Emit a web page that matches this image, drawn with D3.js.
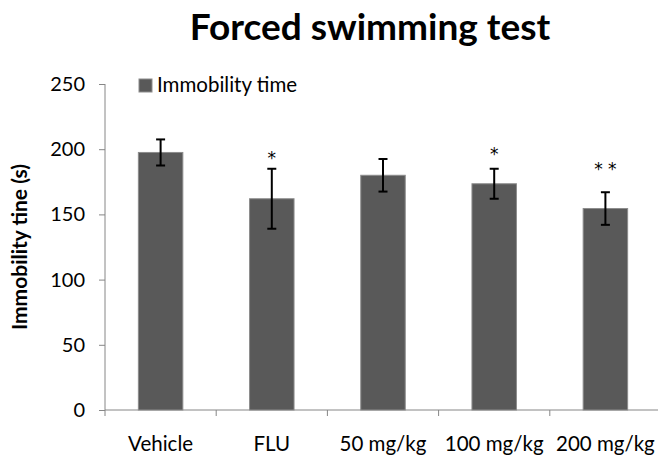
<!DOCTYPE html>
<html>
<head>
<meta charset="utf-8">
<script src="https://cdn.jsdelivr.net/npm/d3@7"></script>
<style>
    body { margin: 0; background: #fff; }
    svg { display: block; font-family: Lato, "Open Sans", sans-serif; }
</style>
</head>
<body>
<div id="chart-area"></div>
<script>
// Data
var groups = ["Vehicle", "FLU", "50 mg/kg", "100 mg/kg", "200 mg/kg"];
var immobility = [197.5, 162, 180, 173.5, 154.5];
var sem = [10, 23, 12.5, 11.5, 12.5];
var signif = ["", "*", "", "*", "* *"];
var signifAt = [0, 197, 0, 200, 188.5];
var yTicks = [0, 50, 100, 150, 200, 250];

var margin = { left:105, right:-3, top:84, bottom:46 };
var width = 658 - margin.left - margin.right,
    height = 456 - margin.top - margin.bottom;

var svg = d3.select("#chart-area")
    .append("svg")
        .attr("width", 658)
        .attr("height", 456);

var g = svg.append("g")
    .attr("transform", "translate(" + margin.left + ", " + margin.top + ")");

// Title
svg.append("text")
    .attr("x", 370)
    .attr("y", 40)
    .attr("text-anchor", "middle")
    .attr("font-size", "37px")
    .attr("font-weight", "bold")
    .text("Forced swimming test");

// Scales
var x = d3.scaleBand()
    .domain(groups)
    .range([0, width])
    .paddingInner(0.6)
    .paddingOuter(0.3);

var xEdge = d3.scaleLinear()
    .domain([0, groups.length])
    .range([0, width]);

var y = d3.scaleLinear()
    .domain([0, 250])
    .range([height, 0]);

// Y Axis
var yAxisGroup = g.append("g")
    .call(d3.axisLeft(y).tickValues(yTicks).tickSize(6).tickPadding(14));
yAxisGroup.select(".domain").attr("stroke", "#868686").attr("d", "M0,0V" + height);
yAxisGroup.selectAll(".tick line").attr("stroke", "#868686");
yAxisGroup.selectAll(".tick text")
    .attr("font-size", "20px")
    .attr("font-family", "Lato, sans-serif")
    .attr("fill", "#000");

// X Axis (ticks sit between categories)
var xAxisGroup = g.append("g")
    .attr("transform", "translate(0," + height + ")");
xAxisGroup.append("line")
    .attr("x1", 0).attr("x2", width)
    .attr("stroke", "#868686");
xAxisGroup.selectAll(".xtick")
    .data(d3.range(groups.length + 1))
    .enter().append("line")
        .attr("x1", function(d){ return xEdge(d); })
        .attr("x2", function(d){ return xEdge(d); })
        .attr("y1", 0).attr("y2", 6)
        .attr("stroke", "#868686");
xAxisGroup.selectAll(".xlabel")
    .data(groups)
    .enter().append("text")
        .attr("x", function(d){ return x(d) + x.bandwidth()/2; })
        .attr("y", 41)
        .attr("text-anchor", "middle")
        .attr("font-size", "20.5px")
        .text(function(d){ return d; });

// Y Label
g.append("text")
    .attr("transform", "rotate(-90)")
    .attr("x", -(height / 2))
    .attr("y", -78)
    .attr("text-anchor", "middle")
    .attr("font-size", "21px")
    .attr("font-weight", "bold")
    .text("Immobility tine (s)");

// Bars
g.selectAll(".bar")
    .data(immobility)
    .enter().append("rect")
        .attr("x", function(d, i){ return x(groups[i]); })
        .attr("y", function(d){ return y(d); })
        .attr("width", x.bandwidth())
        .attr("height", function(d){ return height - y(d); })
        .attr("fill", "#595959")
        .attr("stroke", "#8c8c8c")
        .attr("stroke-width", 1);

// Error bars
var errs = g.selectAll(".err")
    .data(immobility)
    .enter().append("g")
        .attr("transform", function(d, i){ return "translate(" + (x(groups[i]) + x.bandwidth()/2) + ",0)"; });
errs.append("line")
    .attr("y1", function(d, i){ return y(d + sem[i]); })
    .attr("y2", function(d, i){ return y(d - sem[i]); })
    .attr("stroke", "#000").attr("stroke-width", 2);
errs.append("line")
    .attr("x1", -4.5).attr("x2", 4.5)
    .attr("y1", function(d, i){ return y(d + sem[i]); })
    .attr("y2", function(d, i){ return y(d + sem[i]); })
    .attr("stroke", "#000").attr("stroke-width", 2);
errs.append("line")
    .attr("x1", -4.5).attr("x2", 4.5)
    .attr("y1", function(d, i){ return y(d - sem[i]); })
    .attr("y2", function(d, i){ return y(d - sem[i]); })
    .attr("stroke", "#000").attr("stroke-width", 2);

// Significance marks
g.selectAll(".sig")
    .data(signif)
    .enter().append("text")
        .attr("x", function(d, i){ return x(groups[i]) + x.bandwidth()/2; })
        .attr("y", function(d, i){ return y(signifAt[i]); })
        .attr("dy", "0.62em")
        .attr("text-anchor", "middle")
        .attr("font-family", "'DejaVu Sans', sans-serif")
        .attr("font-size", "17px")
        .text(function(d){ return d; });

// Legend
var legend = svg.append("g")
    .attr("transform", "translate(139,79)");
legend.append("rect")
    .attr("width", 13).attr("height", 13)
    .attr("fill", "#595959")
    .attr("stroke", "#8c8c8c");
legend.append("text")
    .attr("x", 18)
    .attr("y", 13)
    .attr("font-size", "20.5px")
    .text("Immobility time");
</script>
</body>
</html>
